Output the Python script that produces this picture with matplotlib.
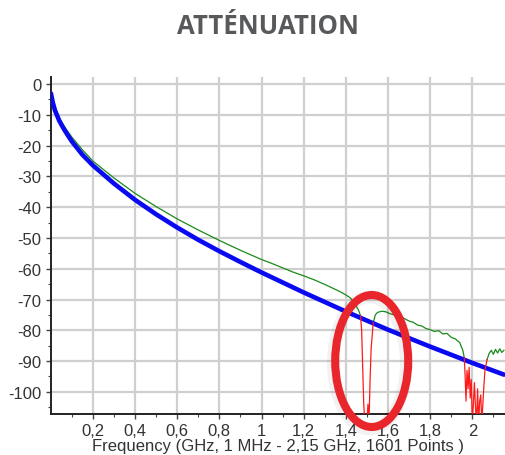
"""Attenuation sweep of a cable vs. its limit line, with the failing notches circled.

Saves out.png (506x456 px).
"""
import matplotlib.pyplot as plt
import numpy as np
from matplotlib.patches import Ellipse

# Limit line (blue): frequency in GHz, attenuation in dB
BLUE_F = [0.001, 0.01, 0.02, 0.04, 0.06, 0.08, 0.1, 0.15, 0.2, 0.3, 0.4, 0.5,
          0.6, 0.7, 0.8, 0.9, 1.0, 1.2, 1.4, 1.6, 1.8, 2.0, 2.15]
BLUE_DB = [-3.0, -6.0, -8.5, -11.8, -14.3, -16.5, -18.6, -22.9, -26.4, -32.3,
           -37.6, -42.3, -46.6, -50.6, -54.3, -57.8, -61.2, -67.7, -73.9,
           -79.8, -85.3, -90.6, -94.4]

# Measured trace (green; red where it falls below the limit)
GREEN_F = [0.001, 0.01, 0.02, 0.04, 0.06, 0.08, 0.1, 0.15, 0.2, 0.3, 0.4, 0.5,
           0.6, 0.7, 0.8, 0.9, 1.0, 1.05, 1.1, 1.15, 1.2, 1.25, 1.3, 1.35,
           1.38, 1.40, 1.42, 1.44, 1.46, 1.47, 1.475, 1.48, 1.485, 1.49, 1.50,
           1.505, 1.51, 1.515, 1.52, 1.53, 1.54, 1.55, 1.57, 1.59, 1.61, 1.63,
           1.65, 1.67, 1.70, 1.72, 1.74, 1.76, 1.78, 1.80, 1.82, 1.84, 1.86,
           1.88, 1.90, 1.92, 1.94, 1.955, 1.962, 1.966, 1.97, 1.975, 1.98,
           1.985, 1.99, 1.995, 2.0, 2.005, 2.01, 2.015, 2.02, 2.025, 2.03,
           2.035, 2.04, 2.045, 2.05, 2.055, 2.06, 2.07, 2.08, 2.09, 2.10, 2.11,
           2.12, 2.13, 2.14, 2.15]
GREEN_DB = [-2.5, -5.5, -8.0, -11.0, -13.3, -15.3, -17.2, -21.3, -25.0, -30.5,
            -35.5, -39.8, -43.8, -47.4, -50.8, -54.0, -57.0, -58.3, -59.7,
            -61.1, -62.3, -63.6, -65.1, -66.7, -67.7, -68.5, -69.4, -71.0,
            -73.4, -75.3, -80.0, -92.0, -104.0, -110.0, -110.0, -104.0, -110.0,
            -96.0, -86.0, -77.5, -75.0, -74.2, -73.8, -74.0, -74.6, -75.0,
            -75.6, -75.9, -77.0, -77.4, -78.3, -78.6, -79.4, -79.8, -80.4,
            -80.1, -81.2, -81.0, -82.3, -82.8, -84.0, -86.5, -89.0, -95.0,
            -103.0, -93.0, -99.0, -92.0, -102.0, -96.0, -110.0, -104.0, -97.0,
            -105.0, -110.0, -99.0, -110.0, -103.0, -101.0, -110.0, -104.0,
            -98.0, -93.0, -89.5, -87.5, -86.5, -87.8, -86.2, -87.4, -86.0,
            -87.2, -86.5]

X_TICKS = [0.2, 0.4, 0.6, 0.8, 1.0, 1.2, 1.4, 1.6, 1.8, 2.0]
X_LABELS = ["0,2", "0,4", "0,6", "0,8", "1", "1,2", "1,4", "1,6", "1,8", "2"]
Y_TICKS = [0, -10, -20, -30, -40, -50, -60, -70, -80, -90, -100]

plt.rcParams["font.family"] = ["Liberation Sans", "DejaVu Sans"]
plt.rcParams["axes.unicode_minus"] = False

fig = plt.figure(figsize=(5.06, 4.56), dpi=100)
ax = fig.add_axes([0.1002, 0.0899, 0.8978, 0.7390])

gf = np.array(GREEN_F)
gd = np.array(GREEN_DB)
below = gd < np.interp(gf, BLUE_F, BLUE_DB)
# keep neighbours so the red pieces join up with the green trace
red_mask = below | np.roll(below, 1) | np.roll(below, -1)
green = np.where(below, np.nan, gd)
red = np.where(red_mask, gd, np.nan)

ax.plot(gf, green, color="#1a8a1a", lw=0.9, zorder=3)
ax.plot(BLUE_F, BLUE_DB, color="#0a0af0", lw=3.3, zorder=4,
        solid_capstyle="round")
ax.plot(gf, red, color="#ff1a1a", lw=0.9, zorder=5)

ax.set_xlim(0, 2.155)
ax.set_ylim(-107.2, 2.3)
ax.set_xticks(X_TICKS)
ax.set_xticklabels(X_LABELS)
ax.set_xticks(np.arange(0.1, 2.15, 0.2), minor=True)
ax.set_yticks(Y_TICKS)
ax.set_yticks(np.arange(-105, 1, 10), minor=True)

ax.grid(True, which="major", color="#cfcfcf", lw=1.6)
ax.set_axisbelow(True)
for side in ("top", "right"):
    ax.spines[side].set_visible(False)
for side in ("left", "bottom"):
    ax.spines[side].set_color("#222222")
    ax.spines[side].set_linewidth(1.4)

ax.tick_params(which="major", length=3.5, width=1.0, color="#444",
               labelsize=12, labelcolor="#333333", pad=3)
ax.tick_params(which="minor", length=2.5, width=0.8, color="#444")

ax.set_xlabel("Frequency (GHz, 1 MHz - 2,15 GHz, 1601 Points )",
              fontsize=12, color="#333333", labelpad=0)

fig.text(0.53, 1 - 27 / 456, "ATTÉNUATION", ha="center", va="center",
         fontsize=18.5, fontweight="bold", color="#58595b",
         family=["Open Sans", "DejaVu Sans"])

# highlight ring around the first notch (with a faint shadow)
cx, cy = 371.7 / 506, 1 - 362 / 456
w, h = 73 / 506, 132 / 456
fig.patches.append(Ellipse((cx - 2 / 506, cy - 2 / 456), w, h,
                           transform=fig.transFigure, fill=False,
                           ec="#000000", lw=9, alpha=0.05, zorder=9))
fig.patches.append(Ellipse((cx, cy), w, h, transform=fig.transFigure,
                           fill=False, ec="#e8262b", lw=5.8, zorder=10))

fig.savefig("out.png", dpi=100)
